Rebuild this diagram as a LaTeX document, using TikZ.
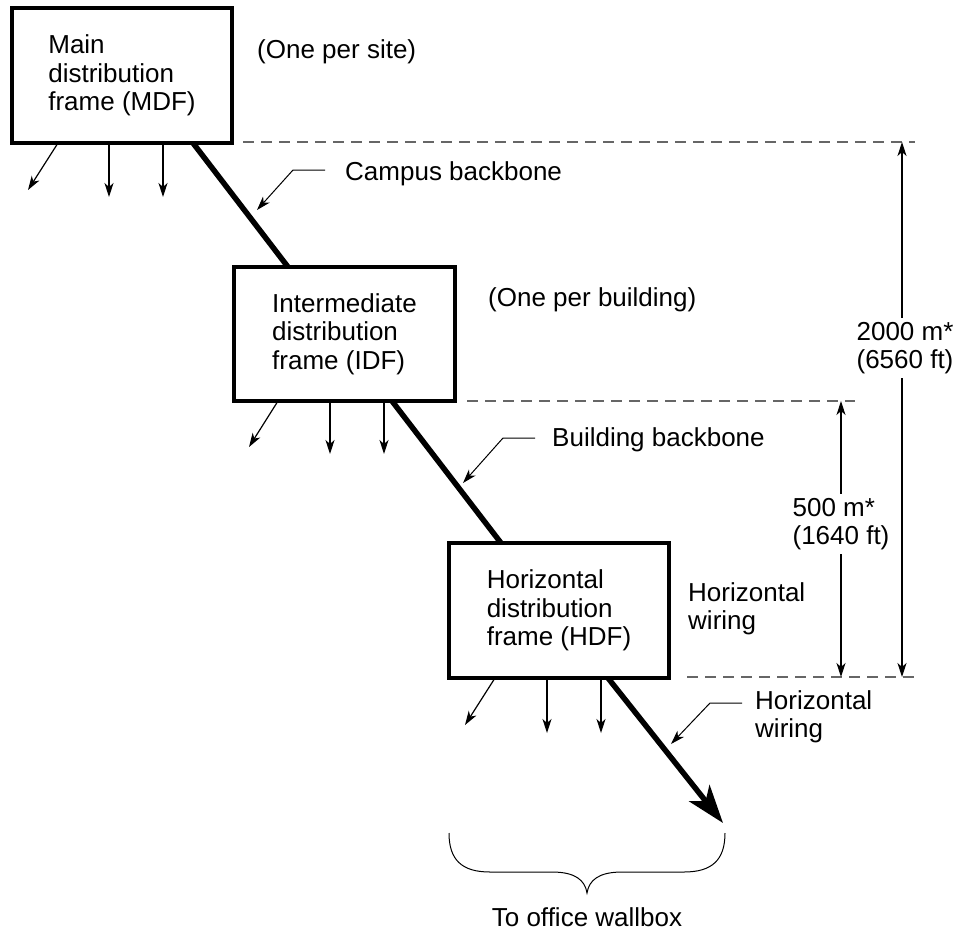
\documentclass[tikz,border=0pt]{standalone}
\usepackage{fontspec}
\setmainfont{Liberation Sans}
\usetikzlibrary{arrows.meta}
\begin{document}
\begin{tikzpicture}[x=1pt,y=-1pt,
  every node/.style={font=\fontsize{26pt}{28.5pt}\selectfont},
  frame/.style={draw,line width=4pt,inner sep=0pt,align=left},
  lbl/.style={inner sep=0pt,anchor=west,align=left},
  dimlbl/.style={inner sep=4pt,align=left},
  thin/.style={line width=1.2pt,-{Stealth[length=14pt,width=9pt,inset=4pt]}},
  leader/.style={line width=1pt,-{Stealth[length=14pt,width=9pt,inset=4pt]}},
  dim/.style={line width=1.2pt,-{Stealth[length=14pt,width=9pt,inset=4pt]}},
  backbone/.style={line width=5.5pt},
  guide/.style={line width=1.5pt,black!60,dash pattern=on 11pt off 7pt}]
\useasboundingbox (0,0) rectangle (966,932);

% frames
\node[frame,minimum width=220pt,minimum height=135pt] (mdf) at (122,75.5) {Main\\distribution\\frame (MDF)};
\node[frame,minimum width=221pt,minimum height=134pt] (idf) at (344.5,334) {Intermediate\\distribution\\frame (IDF)};
\node[frame,minimum width=220pt,minimum height=135pt] (hdf) at (559,610.5) {Horizontal\\distribution\\frame (HDF)};

% labels
\node[lbl] (site) at (257,52) {(One per site)};
\node[lbl] (bldg) at (488,300) {(One per building)};
\node[lbl] (campus) at (345,174) {Campus backbone};
\node[lbl] (building) at (552,440) {Building backbone};
\node[lbl] (hwire1) at (688,609) {Horizontal\\wiring};
\node[lbl] (hwire2) at (755,717) {Horizontal\\wiring};
\node[dimlbl] (l2000) at (905,348) {2000 m*\\(6560 ft)};
\node[dimlbl] (l500) at (841,524) {500 m*\\(1640 ft)};
\node[inner sep=0pt] (wallbox) at (587,917) {To office wallbox};

% backbone coordinates
\coordinate (m0) at (193,143);
\coordinate (i0) at (288,267);
\coordinate (i1) at (392,401);
\coordinate (h0) at (501,543);
\coordinate (h1) at (608,678);
\coordinate (tip) at (723,823);
\draw[backbone] (m0) -- (i0);
\draw[backbone] (i1) -- (h0);
\draw[backbone,-{Stealth[length=38pt,width=26pt,inset=10pt]}] (h1) -- (tip);

% thin arrows from MDF
\coordinate (ma) at (58,143);  \coordinate (mae) at (28,190);
\coordinate (mb) at (109,143); \coordinate (mbe) at (109,197);
\coordinate (mc) at (163,143); \coordinate (mce) at (163,197);
\draw[thin] (ma) -- (mae);
\draw[thin] (mb) -- (mbe);
\draw[thin] (mc) -- (mce);
% thin arrows from IDF
\coordinate (ia) at (278,401); \coordinate (iae) at (249,447);
\coordinate (ib) at (330,401); \coordinate (ibe) at (330,454);
\coordinate (ic) at (384,401); \coordinate (ice) at (384,454);
\draw[thin] (ia) -- (iae);
\draw[thin] (ib) -- (ibe);
\draw[thin] (ic) -- (ice);
% thin arrows from HDF
\coordinate (ha) at (495,678); \coordinate (hae) at (465,725);
\coordinate (hb) at (547,678); \coordinate (hbe) at (547,733);
\coordinate (hc) at (601,678); \coordinate (hce) at (601,733);
\draw[thin] (ha) -- (hae);
\draw[thin] (hb) -- (hbe);
\draw[thin] (hc) -- (hce);

% leaders
\coordinate (cl0) at (325,170); \coordinate (cl1) at (293,170); \coordinate (clt) at (257,210);
\draw[leader] (cl0) -- (cl1) -- (clt);
\coordinate (bl0) at (535,438); \coordinate (bl1) at (503,438); \coordinate (blt) at (463,483);
\draw[leader] (bl0) -- (bl1) -- (blt);
\coordinate (hl0) at (742,703); \coordinate (hl1) at (710,703); \coordinate (hlt) at (671,744);
\draw[leader] (hl0) -- (hl1) -- (hlt);

% guide (dashed) lines
\coordinate (g1a) at (243,142); \coordinate (g1b) at (915,142);
\coordinate (g2a) at (467,401); \coordinate (g2b) at (855,401);
\coordinate (g3a) at (687,677); \coordinate (g3b) at (915,677);
\draw[guide] (g1a) -- (g1b);
\draw[guide] (g2a) -- (g2b);
\draw[guide] (g3a) -- (g3b);

% dimension arrows
\coordinate (d2t) at (902,142); \coordinate (d2b) at (902,677);
\coordinate (d5t) at (841,401); \coordinate (d5b) at (841,677);
\draw[dim] (d2t |- l2000.north) -- (d2t);
\draw[dim] (d2t |- l2000.south) -- (d2b);
\draw[dim] (d5t |- l500.north) -- (d5t);
\draw[dim] (d5t |- l500.south) -- (d5b);

% brace
\coordinate (bL) at (449,833);
\coordinate (bR) at (725,833);
\coordinate (bT) at (587,893);
\draw[line width=1pt] (bL) .. controls (449,860) and (462,872) .. (490,872)
  -- (552,872) .. controls (575,872) and (585,880) .. (bT)
  .. controls (589,880) and (599,872) .. (622,872)
  -- (684,872) .. controls (712,872) and (725,860) .. (bR);
\end{tikzpicture}
\end{document}
